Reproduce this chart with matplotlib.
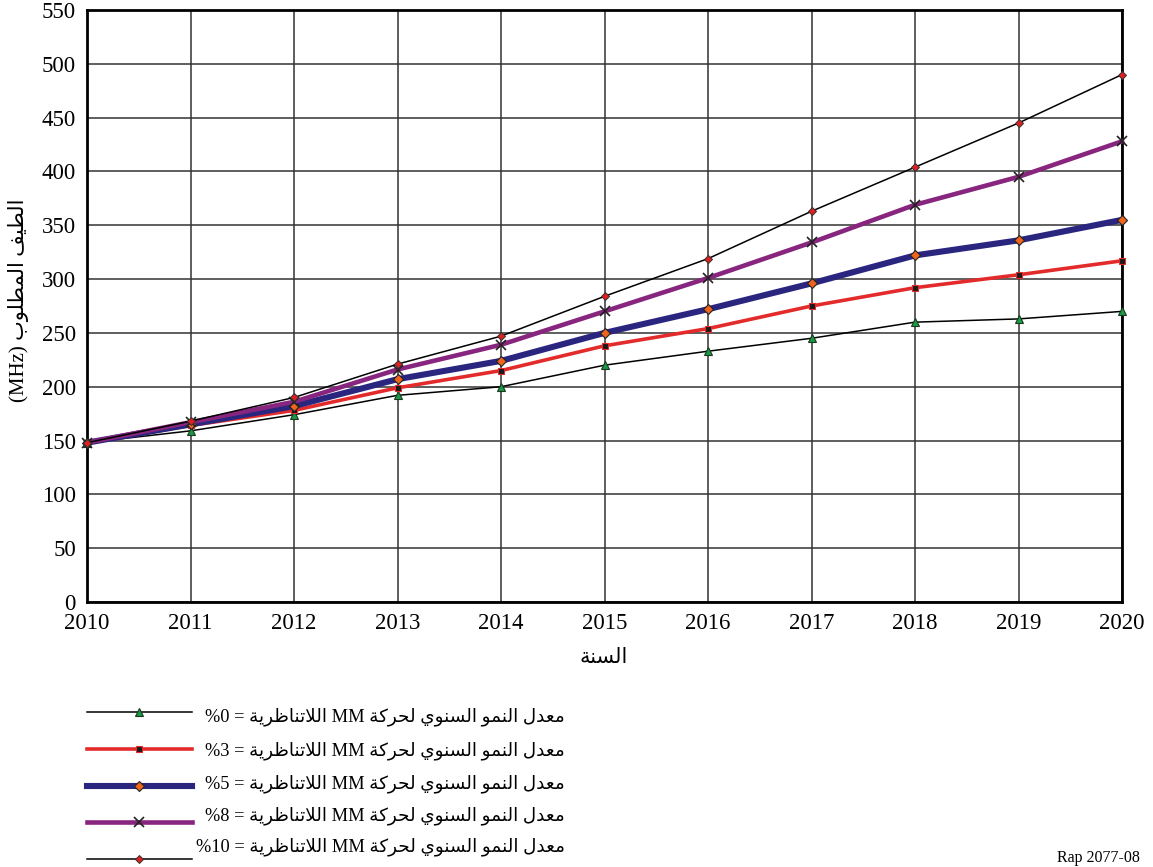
import matplotlib
matplotlib.use("Agg")
import matplotlib.pyplot as plt
from matplotlib.lines import Line2D

# ---- data -------------------------------------------------------------
years = [2010, 2011, 2012, 2013, 2014, 2015, 2016, 2017, 2018, 2019, 2020]
growth_0 = [148, 159, 174, 192, 200, 220, 233, 245, 260, 263, 270]
growth_3 = [148, 164, 178, 199, 215, 238, 254, 275, 292, 304, 317]
growth_5 = [148, 165, 182, 207, 224, 250, 272, 296, 322, 336, 355]
growth_8 = [148, 167, 186, 216, 239, 270, 301, 334, 369, 395, 428]
growth_10 = [148, 168, 190, 221, 247, 284, 319, 363, 404, 445, 490]

series_labels = [
    "معدل النمو السنوي لحركة MM اللاتناظرية = %0",
    "معدل النمو السنوي لحركة MM اللاتناظرية = %3",
    "معدل النمو السنوي لحركة MM اللاتناظرية = %5",
    "معدل النمو السنوي لحركة MM اللاتناظرية = %8",
    "معدل النمو السنوي لحركة MM اللاتناظرية = %10",
]
x_label = "السنة"
y_label = "الطيف المطلوب (MHz)"
figure_ref = "Rap 2077-08"
y_ticks = list(range(0, 551, 50))

# ---- minimal Arabic shaping (contextual forms + right-to-left order) ---
# letter: (isolated, final, initial, medial); None for initial/medial means
# the letter does not join to the following letter.
FORMS = {
    "\u0627": (0xFE8D, 0xFE8E, None, None),      # alef
    "\u0628": (0xFE8F, 0xFE90, 0xFE91, 0xFE92),  # beh
    "\u0629": (0xFE93, 0xFE94, None, None),      # teh marbuta
    "\u062A": (0xFE95, 0xFE96, 0xFE97, 0xFE98),  # teh
    "\u062D": (0xFEA1, 0xFEA2, 0xFEA3, 0xFEA4),  # hah
    "\u062F": (0xFEA9, 0xFEAA, None, None),      # dal
    "\u0631": (0xFEAD, 0xFEAE, None, None),      # reh
    "\u0633": (0xFEB1, 0xFEB2, 0xFEB3, 0xFEB4),  # seen
    "\u0637": (0xFEC1, 0xFEC2, 0xFEC3, 0xFEC4),  # tah
    "\u0638": (0xFEC5, 0xFEC6, 0xFEC7, 0xFEC8),  # zah
    "\u0639": (0xFEC9, 0xFECA, 0xFECB, 0xFECC),  # ain
    "\u0641": (0xFED1, 0xFED2, 0xFED3, 0xFED4),  # feh
    "\u0643": (0xFED9, 0xFEDA, 0xFEDB, 0xFEDC),  # kaf
    "\u0644": (0xFEDD, 0xFEDE, 0xFEDF, 0xFEE0),  # lam
    "\u0645": (0xFEE1, 0xFEE2, 0xFEE3, 0xFEE4),  # meem
    "\u0646": (0xFEE5, 0xFEE6, 0xFEE7, 0xFEE8),  # noon
    "\u0648": (0xFEED, 0xFEEE, None, None),      # waw
    "\u064A": (0xFEF1, 0xFEF2, 0xFEF3, 0xFEF4),  # yeh
    "\uFEFB": (0xFEFB, 0xFEFC, None, None),      # lam-alef ligature
}


def shape_word(word):
    word = word.replace("\u0644\u0627", "\uFEFB")
    out = []
    for i, ch in enumerate(word):
        iso, fin, ini, med = FORMS[ch]
        prev = word[i - 1] if i > 0 else None
        nxt = word[i + 1] if i + 1 < len(word) else None
        join_prev = prev is not None and FORMS[prev][2] is not None
        join_next = ini is not None and nxt is not None
        if join_prev and join_next:
            code = med
        elif join_prev:
            code = fin
        elif join_next:
            code = ini
        else:
            code = iso
        out.append(chr(code))
    return "".join(reversed(out))


def rtl(text):
    words = []
    for w in text.split(" "):
        if w and all(c in FORMS for c in w):
            words.append(shape_word(w))
        else:
            words.append(w)
    return " ".join(reversed(words))


# ---- figure -----------------------------------------------------------
W, H = 1153, 867
fig = plt.figure(figsize=(W / 100, H / 100), dpi=100)
FONT = ["Liberation Serif", "DejaVu Sans"]
plt.rcParams["font.family"] = FONT


def fx(px):
    return px / W


def fy(py):
    return 1 - py / H


ax = fig.add_axes([fx(87), fy(602), fx(1122) - fx(87), fy(10) - fy(602)])

styles = [
    dict(color="black", lw=1.1, marker="^", ms=5.5, mfc="#1a9a45", mec="#1a3a20", mew=0.8),
    dict(color="#e32b2b", lw=2.6, marker="s", ms=4.0, mfc="#1a1a1a", mec="#e32b2b", mew=0.8),
    dict(color="#2a2680", lw=4.4, marker="D", ms=4.8, mfc="#f0641e", mec="#222222", mew=0.8),
    dict(color="#87257f", lw=3.3, marker="x", ms=7, mfc="none", mec="#222222", mew=1.2),
    dict(color="black", lw=1.1, marker="D", ms=4.2, mfc="#e02020", mec="#333333", mew=0.7),
]
series = [growth_0, growth_3, growth_5, growth_8, growth_10]

for vals, st in zip(series, styles):
    ax.plot(years, vals, clip_on=False, zorder=3, **st)

ax.set_xlim(years[0], years[-1])
ax.set_ylim(y_ticks[0], y_ticks[-1])
ax.set_xticks(years)
ax.set_yticks(y_ticks)
ax.grid(True, color="#333333", lw=1.1)
ax.set_axisbelow(True)
ax.tick_params(length=0, labelsize=16.5, pad=8)
for sp in ax.spines.values():
    sp.set_linewidth(2.0)
    sp.set_color("black")

fig.text(fx(604), fy(657), rtl(x_label), ha="center", va="center", fontsize=15,
         family=["DejaVu Sans"])
fig.text(fx(19), fy(300), rtl(y_label), ha="center", va="center", fontsize=15,
         rotation=90, family=FONT)

# ---- legend drawn below the plot -------------------------------------
line_y = [712, 749, 786, 822, 859]
text_y = [717, 751, 784, 816, 847]
for lbl, st, ly, ty in zip(series_labels, styles, line_y, text_y):
    fig.add_artist(Line2D([fx(87), fx(192)], [fy(ly), fy(ly)], transform=fig.transFigure,
                          color=st["color"], lw=st["lw"]))
    fig.add_artist(Line2D([fx(139)], [fy(ly)], transform=fig.transFigure, lw=0,
                          marker=st["marker"], ms=st["ms"], mfc=st["mfc"],
                          mec=st["mec"], mew=st["mew"]))
    fig.text(fx(565), fy(ty), rtl(lbl), ha="right", va="center", fontsize=13.2, family=FONT)

fig.text(fx(1140), fy(858), figure_ref, ha="right", va="center", fontsize=11.5)

fig.savefig("out.png", dpi=100)
